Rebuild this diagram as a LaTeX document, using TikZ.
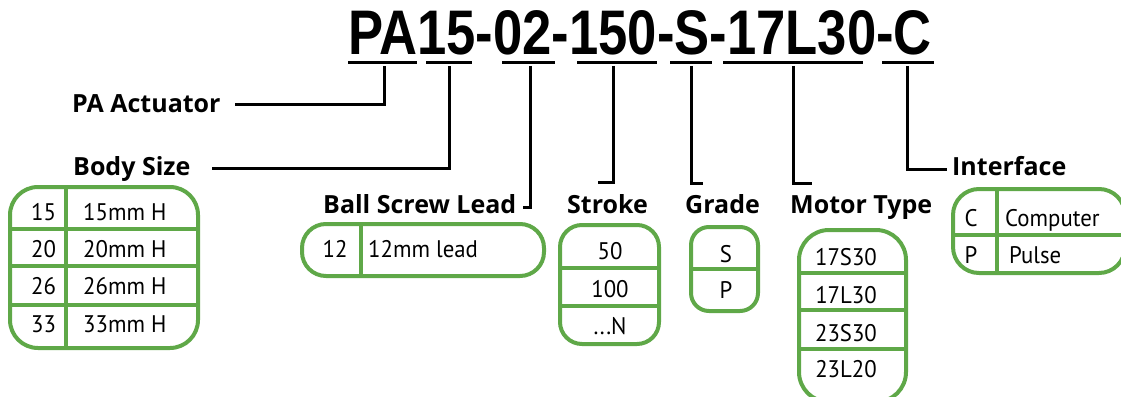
\documentclass[tikz,border=0pt]{standalone}
\usepackage{fontspec}
\setmainfont{PT Sans}
\newfontfamily\titlefont{Liberation Sans}
\newfontfamily\lblfont{Open Sans}
\newfontfamily\cellfont{PT Sans}[FakeStretch=0.95]
\definecolor{boxgreen}{RGB}{95,168,72}
\begin{document}
\begin{tikzpicture}[x=1pt,y=-1pt,
  lbl/.style={anchor=base west,inner sep=0pt,font=\lblfont\fontsize{25}{25}\selectfont\bfseries},
  cell/.style={anchor=base,inner sep=0pt,font=\cellfont\fontsize{24}{24}\selectfont},
  cellw/.style={anchor=base west,inner sep=0pt,font=\cellfont\fontsize{24}{24}\selectfont},
  uline/.style={line width=3pt},
  conn/.style={line width=3pt},
  gbox/.style={draw=boxgreen,line width=4pt},
  gdiv/.style={draw=boxgreen,line width=4pt}]
\useasboundingbox (0,0) rectangle (1121,396);

% title
\node[anchor=base west,inner sep=0pt] (title) at (348,55)
  {\scalebox{0.835}[1]{\titlefont\fontsize{63}{63}\selectfont\bfseries PA15-02-150-S-17L30-C}};

% underlines
\draw[uline] (348,63) -- (417,63);
\draw[uline] (426,63) -- (472,63);
\draw[uline] (502,63) -- (555,63);
\draw[uline] (577,63) -- (657,63);
\draw[uline] (670,63) -- (712,63);
\draw[uline] (723,63) -- (863,63);
\draw[uline] (882,63) -- (934,63);

\coordinate (uPA) at (384,66);
\coordinate (u15) at (449,66);
\coordinate (u02) at (530,66);
\coordinate (u150) at (613,66);
\coordinate (uS) at (691,66);
\coordinate (uM) at (793,66);
\coordinate (uC) at (907,66);

% labels
\node[lbl] (pa) at (72,112) {PA Actuator};
\node[lbl] (body) at (73,175) {Body Size};
\node[lbl] (lead) at (323,213) {Ball Screw Lead};
\node[lbl] (stroke) at (567,213) {Stroke};
\node[lbl] (grade) at (685,213) {Grade};
\node[lbl] (motor) at (790,213) {Motor Type};
\node[lbl] (iface) at (952,175) {Interface};

% connectors
\coordinate (hPA) at (235,104);
\coordinate (hB) at (212,168);
\coordinate (hL) at (523,207);
\coordinate (hSt) at (598,182);
\coordinate (hG) at (703,183);
\coordinate (hM) at (812,183);
\coordinate (hI) at (947,169);
\draw[conn] (hPA) -| (uPA);
\draw[conn] (hB) -| (u15);
\draw[conn] (u02) |- (hL);
\draw[conn] (u150) |- (hSt);
\draw[conn] (uS) |- (hG);
\draw[conn] (uM) |- (hM);
\draw[conn] (uC) |- (hI);

% Body size box
\begin{scope}
\clip[rounded corners=28pt] (10,187) rectangle (198,348);
\draw[gdiv] (0,229) -- (210,229);
\draw[gdiv] (0,266) -- (210,266);
\draw[gdiv] (0,305) -- (210,305);
\draw[gdiv] (66,180) -- (66,360);
\end{scope}
\draw[gbox,rounded corners=28pt] (10,187) rectangle (198,348);
\node[cell] (b1) at (43.5,220) {15};
\node[cell] (b2) at (43.5,257) {20};
\node[cell] (b3) at (43.5,294) {26};
\node[cell] (b4) at (43.5,332) {33};
\node[cellw] (b1t) at (83,220) {15mm H};
\node[cellw] (b2t) at (83,257) {20mm H};
\node[cellw] (b3t) at (83,294) {26mm H};
\node[cellw] (b4t) at (83,332) {33mm H};

% Ball screw lead box
\begin{scope}
\clip[rounded corners=24pt] (302,224) rectangle (544,276);
\draw[gdiv] (361,215) -- (361,285);
\end{scope}
\draw[gbox,rounded corners=24pt] (302,224) rectangle (544,276);
\node[cell] (l1) at (335,257) {12};
\node[cellw] (l1t) at (368,257) {12mm lead};

% Stroke box
\begin{scope}
\clip[rounded corners=22pt] (560,225) rectangle (659,344);
\draw[gdiv] (550,268) -- (670,268);
\draw[gdiv] (550,306) -- (670,306);
\end{scope}
\draw[gbox,rounded corners=22pt] (560,225) rectangle (659,344);
\node[cell] (s1) at (610,259) {50};
\node[cell] (s2) at (610,297) {100};
\node[cell] (s3) at (610,334) {...N};

% Grade box
\begin{scope}
\clip[rounded corners=18pt] (691,227) rectangle (758,311);
\draw[gdiv] (680,269) -- (770,269);
\end{scope}
\draw[gbox,rounded corners=18pt] (691,227) rectangle (758,311);
\node[cell] (g1) at (726,262) {S};
\node[cell] (g2) at (726,298) {P};

% Motor type box
\begin{scope}
\clip[rounded corners=30pt] (799,230) rectangle (906,402);
\draw[gdiv] (790,273) -- (915,273);
\draw[gdiv] (790,310) -- (915,310);
\draw[gdiv] (790,349) -- (915,349);
\end{scope}
\draw[gbox,rounded corners=30pt] (799,230) rectangle (906,402);
\node[cell] (m1) at (846,265) {17S30};
\node[cell] (m2) at (846,303) {17L30};
\node[cell] (m3) at (846,341) {23S30};
\node[cell] (m4) at (846,377) {23L20};

% Interface box
\begin{scope}
\clip[rounded corners=26pt] (953,189) rectangle (1125,273);
\draw[gdiv] (940,235) -- (1130,235);
\draw[gdiv] (997,180) -- (997,280);
\end{scope}
\draw[gbox,rounded corners=26pt] (953,189) rectangle (1125,273);
\node[cell] (i1) at (971,226) {C};
\node[cell] (i2) at (971,263) {P};
\node[cellw] (i1t) at (1005,226) {Computer};
\node[cellw] (i2t) at (1009,263) {Pulse};
\end{tikzpicture}
\end{document}
